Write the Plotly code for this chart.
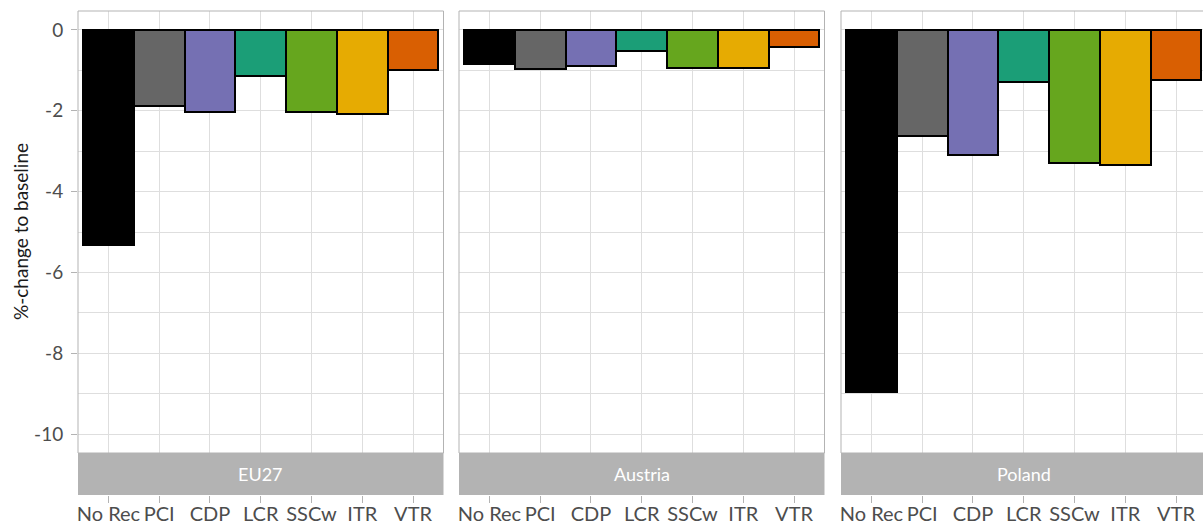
import plotly.graph_objects as go

# ---- data -------------------------------------------------------------
categories = ["No Rec", "PCI", "CDP", "LCR", "SSCw", "ITR", "VTR"]
regions = ["EU27", "Austria", "Poland"]
eu27 = [-5.31, -1.88, -2.03, -1.14, -2.04, -2.08, -0.99]
austria = [-0.84, -0.96, -0.88, -0.52, -0.93, -0.93, -0.41]
poland = [-8.96, -2.62, -3.10, -1.28, -3.29, -3.33, -1.23]
bar_colors = ["#000000", "#666666", "#7570B3", "#1B9E77", "#66A61E", "#E6AB02", "#D95F02"]
y_tickvals = [0, -2, -4, -6, -8, -10]
y_ticktext = ["0", "-2", "-4", "-6", "-8", "-10"]
y_title = "%-change to baseline"

# ---- layout geometry (pixels of a 1203 x 525 canvas) -------------------
W, H = 1203, 525
panels_px = [(78, 443.5), (459, 824.5), (841, 1203)]
panel_top, panel_bottom, strip_bottom = 11, 453, 495
unit_px = 365.5 / 7.2          # pixels per category step
y_range = [-10.47, 0.47]

GRID = "#dedede"
FRAME = "#b3b3b3"
TEXT = "#4d4d4d"
FONT = "Lato"

def fx(px):
    return px / W

def fy(px):
    return 1 - px / H

fig = go.Figure()
values = [eu27, austria, poland]
layout = dict(
    width=W, height=H,
    margin=dict(l=0, r=0, t=0, b=0, autoexpand=False),
    paper_bgcolor="white", plot_bgcolor="white",
    showlegend=False, bargap=0,
    font=dict(family=FONT, color=TEXT),
)
shapes, annotations = [], []

for i, (name, vals) in enumerate(zip(regions, values)):
    sfx = "" if i == 0 else str(i + 1)
    xa, ya = "x" + sfx, "y" + sfx
    left, right = panels_px[i]
    x_hi = -0.6 + (right - left) / unit_px

    fig.add_trace(go.Bar(
        x=categories, y=vals, xaxis=xa, yaxis=ya,
        marker=dict(color=bar_colors, line=dict(color="black", width=2)),
        width=1,
    ))

    layout["xaxis" + sfx] = dict(
        domain=[fx(left), fx(right)], range=[-0.6, x_hi],
        type="category", categoryorder="array", categoryarray=categories,
        anchor="free", position=fy(strip_bottom), automargin=False,
        showgrid=True, gridcolor=GRID, gridwidth=1,
        ticks="outside", ticklen=7, tickcolor=FRAME, tickwidth=1,
        ticklabelstandoff=-6,
        tickfont=dict(size=20, color=TEXT, family=FONT),
        showline=False, zeroline=False, fixedrange=True,
    )
    ydict = dict(
        domain=[fy(panel_bottom), fy(panel_top)], range=y_range,
        anchor=xa, tickvals=y_tickvals, ticktext=y_ticktext, automargin=False,
        showgrid=True, gridcolor=GRID, gridwidth=1,
        minor=dict(dtick=1, showgrid=True, gridcolor=GRID, gridwidth=1),
        zeroline=False, showline=False, fixedrange=True,
    )
    if i == 0:
        ydict.update(ticks="outside", ticklen=6, tickcolor=FRAME, tickwidth=1,
                     ticklabelstandoff=4,
                     tickfont=dict(size=19, color=TEXT, family=FONT))
    else:
        ydict.update(showticklabels=False, ticks="", matches="y")
    layout["yaxis" + sfx] = ydict

    # panel frame (the last panel runs past the right edge of the canvas)
    if i < 2:
        shapes.append(dict(type="rect", xref=xa + " domain", yref=ya + " domain",
                           x0=0, x1=1, y0=0, y1=1, line=dict(color=FRAME, width=1),
                           layer="above"))
    else:
        shapes.append(dict(type="path", xref=xa + " domain", yref=ya + " domain",
                           path="M 1.01,0 L 0,0 L 0,1 L 1.01,1",
                           line=dict(color=FRAME, width=1), layer="above"))
    # facet strip under the panel
    shapes.append(dict(type="rect", xref=xa + " domain", yref="paper",
                       x0=0, x1=1.02 if i == 2 else 1,
                       y0=fy(strip_bottom), y1=fy(panel_bottom),
                       fillcolor=FRAME, line=dict(width=0), layer="above"))
    annotations.append(dict(text=name, xref=xa, x=3, yref="paper",
                            y=(fy(strip_bottom) + fy(panel_bottom)) / 2,
                            xanchor="center", yanchor="middle", showarrow=False,
                            font=dict(size=18, color="white", family=FONT)))

annotations.append(dict(text=y_title, xref="paper", yref="paper",
                        x=fx(20), y=(fy(panel_top) + fy(panel_bottom)) / 2,
                        textangle=-90, showarrow=False,
                        xanchor="center", yanchor="middle",
                        font=dict(size=19, color="#1a1a1a", family=FONT)))

layout["shapes"] = shapes
layout["annotations"] = annotations
fig.update_layout(**layout)
fig.write_html("out.html")
